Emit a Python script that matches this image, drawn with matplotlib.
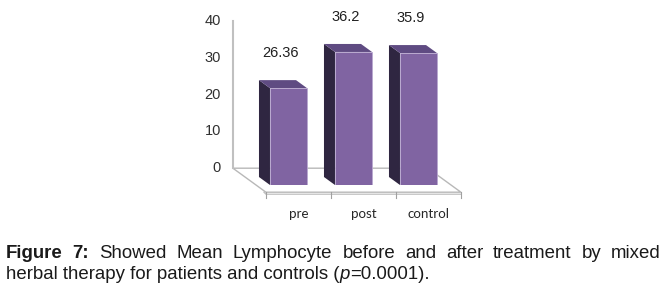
import matplotlib
matplotlib.use('Agg')
import matplotlib.pyplot as plt
from matplotlib.patches import Polygon, Rectangle
from matplotlib.lines import Line2D

# data
categories = ['pre', 'post', 'control']
values = [26.36, 36.2, 35.9]
value_labels = ['26.36', '36.2', '35.9']
yticks = [0, 10, 20, 30, 40]

# colours
front_col = '#8064a2'
top_col = '#5f4b82'
side_col = '#2f2641'
floor_col = '#b8b8b8'

W, H = 666, 290
fig = plt.figure(figsize=(W / 100, H / 100), dpi=100)
fig.patch.set_facecolor('white')

# axes = front plane of the bars, drawn above the floor and side faces
ax = fig.add_axes([256 / W, 105 / H, 195 / W, 147 / H])
ax.set_xlim(-0.5, 2.5)
ax.set_ylim(0, 40)
ax.axis('off')
ax.set_zorder(2)
ax.patch.set_alpha(0)

# one unit of depth moves a point this many pixels (left, up)
DX, DY = -11, 8


def px(x, y, depth=0.0):
    # data point -> figure fraction, shifted back by depth
    X, Y = ax.transData.transform((x, y))
    return ((X + depth * DX) / W, (Y + depth * DY) / H)


def poly(pts, **kw):
    p = Polygon([px(*q) for q in pts], closed=True, transform=fig.transFigure, **kw)
    fig.patches.append(p)


def line(pts, **kw):
    xs, ys = zip(*[px(*q) for q in pts])
    fig.lines.append(Line2D(xs, ys, transform=fig.transFigure, **kw))


f_front, f_back = -0.9, 2.1
x_lo, x_hi = -0.5, 2.5

# floor
poly([(x_lo, 0, f_front), (x_hi, 0, f_front), (x_hi, 0, f_back), (x_lo, 0, f_back)],
     facecolor='white', edgecolor=floor_col, lw=1.0, zorder=0.5)
# floor thickness
X0, Y0 = px(x_lo, 0, f_front)
X1, Y1 = px(x_hi, 0, f_front)
fig.lines.append(Line2D([X0 - 2 / W, X0, X1], [Y0 + 0 / H, Y0 - 2 / H, Y1 - 2 / H],
                        transform=fig.transFigure, color=floor_col, lw=0.8))
# category ticks on the front edge of the floor
for b in [-0.5, 0.5, 1.5, 2.5]:
    xa, ya = px(b, 0, f_front)
    fig.lines.append(Line2D([xa, xa], [ya, ya - 6 / H], transform=fig.transFigure,
                            color='#a0a0a0', lw=0.8))

# back wall axis
line([(x_lo, 0, f_back), (x_lo, 40, f_back)], color='#c0c0c0', lw=1.5)
for t in yticks:
    xa, ya = px(x_lo, t, f_back)
    fig.text(xa - 12 / W, ya, str(t), ha='right', va='center',
             fontsize=10.5, family='Liberation Sans', color='#303030')

# bars
w = 0.57
for i, v in enumerate(values):
    x0, x1 = i - w / 2, i + w / 2
    poly([(x0, 0, 0), (x0, v, 0), (x0, v, 1), (x0, 0, 1)], facecolor=side_col,
         edgecolor='none', zorder=1)
    poly([(x0, v, 0), (x1, v, 0), (x1, v, 1), (x0, v, 1)], facecolor=top_col,
         edgecolor='none', zorder=1)
    ax.add_patch(Rectangle((x0, 0), w, v, facecolor=front_col, edgecolor='#b9a8cf', lw=0.6))
    lx, ly = px(i, v + 9.5, 0)
    fig.text(lx - 8 / W, ly, value_labels[i], ha='center', va='center',
             fontsize=10.5, family='Liberation Sans', color='#202020', zorder=3)

# category labels
for i, c in enumerate(categories):
    xa, _ = px(i, 0, f_front)
    fig.text(xa, 1 - 218 / H, c, ha='center', va='baseline', fontsize=9.6,
             family='Lato', color='#262626')

# caption, first line justified
renderer = fig.canvas.get_renderer()
words = [('Figure', 'bold'), ('7:', 'bold')] + [(s, 'normal') for s in
         'Showed Mean Lymphocyte before and after treatment by mixed'.split()]
cap_size = 13.4
texts = [fig.text(0, 1 - 258 / H, s, fontsize=cap_size, family='Liberation Sans',
                  weight=wt, va='baseline', color='#1a1a1a') for s, wt in words]
widths = [t.get_window_extent(renderer).width for t in texts]
left, right = 6, 661
gap = (right - left - sum(widths)) / (len(texts) - 1)
xpos = left
for t, wd in zip(texts, widths):
    t.set_x(xpos / W)
    xpos += wd + gap

# caption, second line
parts = [('herbal therapy for patients and controls (', 'normal'), ('p', 'italic'),
         ('=0.0001).', 'normal')]
xpos = left
for s, st in parts:
    t = fig.text(xpos / W, 1 - 279 / H, s, fontsize=cap_size, family='Liberation Sans',
                 style=st, va='baseline', color='#1a1a1a')
    xpos += t.get_window_extent(renderer).width

fig.savefig('out.png', dpi=100)
